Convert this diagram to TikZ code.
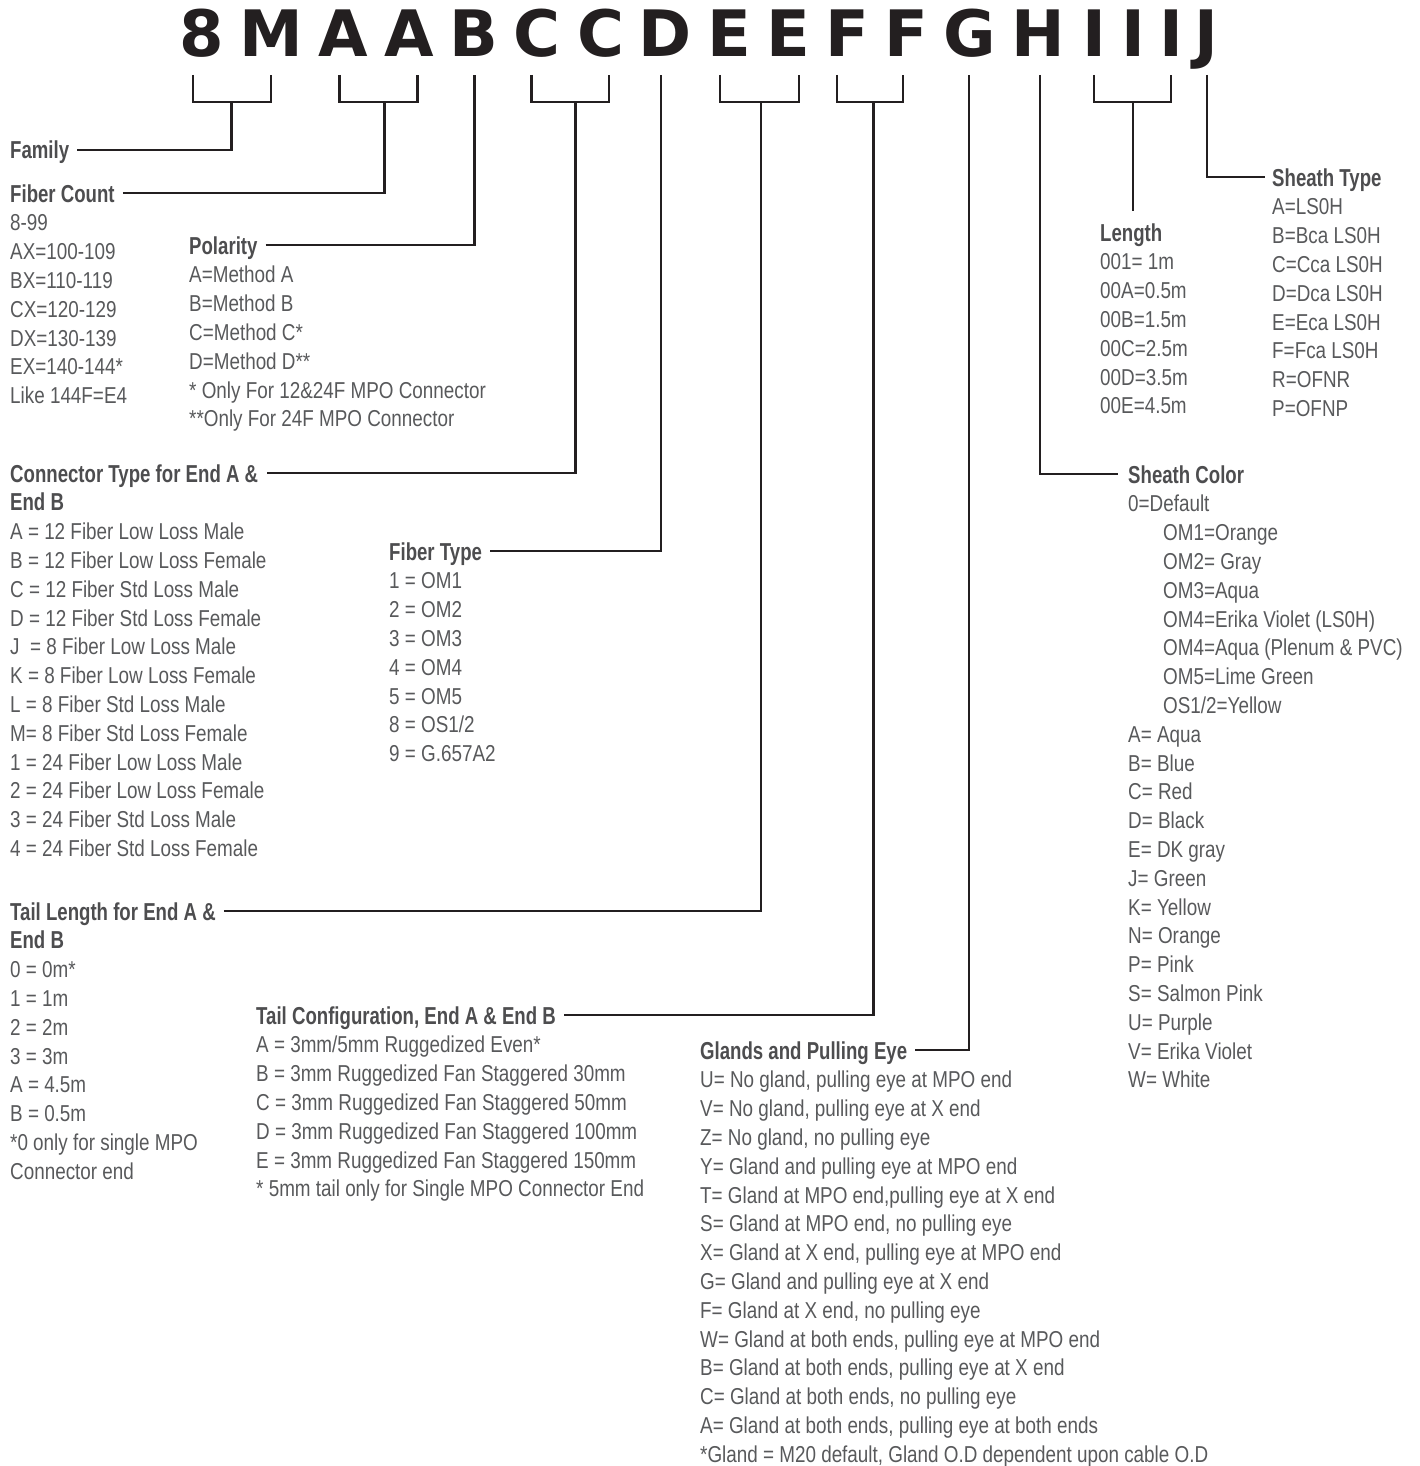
\documentclass[tikz,border=0pt]{standalone}
\usepackage{fontspec}
\setmainfont{Liberation Sans}
\newfontfamily\bodyf[FakeStretch=0.82]{Liberation Sans}
\newfontfamily\headf[FakeStretch=0.76]{Liberation Sans}
\newfontfamily\codef{DejaVu Sans}
\definecolor{ink}{HTML}{231F20}
\definecolor{hdc}{HTML}{4D4D4F}
\definecolor{txt}{HTML}{58595B}

\begin{document}
\begin{tikzpicture}[x=1pt,y=-1pt,
cd/.style={inner sep=0, anchor=base, font=\fontsize{64}{64}\selectfont\codef\bfseries, text=ink},
hd/.style={inner sep=0, anchor=base west, text height=18pt, text depth=0pt, font=\fontsize{24.5}{28.8}\selectfont\headf\bfseries, text=hdc},
it/.style={inner sep=0, anchor=base west, font=\fontsize{23}{28.8}\selectfont\bodyf, text=txt},
ln/.style={draw=ink, line width=2.6pt}]
	\useasboundingbox (0,0) rectangle (1420,1466);

	% part number
	\foreach \x/\c [count=\i] in {201.5/8, 271/M, 343.5/A, 409/A, 473.5/B, 537/C, 600.5/C, 665/D, 729/E, 788/E, 847/F, 906/F, 970/G, 1038.5/H, 1094/I, 1133/I, 1171/I, 1206/J}
		\node[cd] (l\i) at (\x,57) {\c};

	% brackets and single ticks
	\foreach \a/\b/\s [count=\i] in {193/271/231.5, 339.5/417.5/384.5, 531.5/609/575.5, 720/799/761, 837/903/873.5, 1094/1171/1133} {
		\draw[ln] (\a,75) |- (\b,102) -- (\b,75);
		\coordinate (br\i) at (\s,102);
	}
	\coordinate (tB) at (474.5,75);
	\coordinate (tD) at (661,75);
	\coordinate (tG) at (969,75);
	\coordinate (tH) at (1040,75);
	\coordinate (tJ) at (1207,75);

	% left column
	\node[hd] (fam) at (10,159) {Family};
	\node[hd] (fcnt) at (10,202) {Fiber Count};
	\foreach \t [count=\i] in {8-99, AX=100-109, BX=110-119, CX=120-129, DX=130-139, EX=140-144*, Like 144F=E4}
		\node[it] (fcnt\i) at (10,{202+28.8*\i}) {\t};

	\node[hd] (pol) at (189,254) {Polarity};
	\foreach \t [count=\i] in {A=Method A, B=Method B, C=Method C*, D=Method D**, * Only For 12\&24F MPO Connector, **Only For 24F MPO Connector}
		\node[it] (pol\i) at (189,{254+28.8*\i}) {\t};

	\node[hd] (conn) at (10,482) {Connector Type for End A \&};
	\node[hd] (connb) at (10,510.8) {End B};
	\foreach \t [count=\i] in {A = 12 Fiber Low Loss Male, B = 12 Fiber Low Loss Female, C = 12 Fiber Std Loss Male, D = 12 Fiber Std Loss Female, J\ \ = 8 Fiber Low Loss Male, K = 8 Fiber Low Loss Female, L = 8 Fiber Std Loss Male, M= 8 Fiber Std Loss Female, 1 = 24 Fiber Low Loss Male, 2 = 24 Fiber Low Loss Female, 3 = 24 Fiber Std Loss Male, 4 = 24 Fiber Std Loss Female}
		\node[it] (conn\i) at (10,{510.8+28.8*\i}) {\t};

	\node[hd] (ftyp) at (389,560) {Fiber Type};
	\foreach \t [count=\i] in {1 = OM1, 2 = OM2, 3 = OM3, 4 = OM4, 5 = OM5, 8 = OS1/2, 9 = G.657A2}
		\node[it] (ftyp\i) at (389,{560+28.8*\i}) {\t};

	\node[hd] (tlen) at (10,920) {Tail Length for End A \&};
	\node[hd] (tlenb) at (10,948.8) {End B};
	\foreach \t [count=\i] in {0 = 0m*, 1 = 1m, 2 = 2m, 3 = 3m, A = 4.5m, B = 0.5m, *0 only for single MPO, Connector end}
		\node[it] (tlen\i) at (10,{948.8+28.8*\i}) {\t};

	\node[hd] (tcfg) at (256,1024) {Tail Configuration, End A \& End B};
	\foreach \t [count=\i] in {A = 3mm/5mm Ruggedized Even*, B = 3mm Ruggedized Fan Staggered 30mm, C = 3mm Ruggedized Fan Staggered 50mm, D = 3mm Ruggedized Fan Staggered 100mm, E = 3mm Ruggedized Fan Staggered 150mm, * 5mm tail only for Single MPO Connector End}
		\node[it] (tcfg\i) at (256,{1024+28.8*\i}) {\t};

	\node[hd] (glnd) at (700,1059) {Glands and Pulling Eye};
	\foreach \t [count=\i] in {{U= No gland, pulling eye at MPO end}, {V= No gland, pulling eye at X end}, {Z= No gland, no pulling eye}, Y= Gland and pulling eye at MPO end, {T= Gland at MPO end,pulling eye at X end}, {S= Gland at MPO end, no pulling eye}, {X= Gland at X end, pulling eye at MPO end}, G= Gland and pulling eye at X end, {F= Gland at X end, no pulling eye}, {W= Gland at both ends, pulling eye at MPO end}, {B= Gland at both ends, pulling eye at X end}, {C= Gland at both ends, no pulling eye}, {A= Gland at both ends, pulling eye at both ends}, {*Gland = M20 default, Gland O.D dependent upon cable O.D}}
		\node[it] (glnd\i) at (700,{1059+28.8*\i}) {\t};

	% right column
	\node[hd] (styp) at (1272,186) {Sheath Type};
	\foreach \t [count=\i] in {A=LS0H, B=Bca LS0H, C=Cca LS0H, D=Dca LS0H, E=Eca LS0H, F=Fca LS0H, R=OFNR, P=OFNP}
		\node[it] (styp\i) at (1272,{186+28.8*\i}) {\t};

	\node[hd] (len) at (1100,241) {Length};
	\foreach \t [count=\i] in {001= 1m, 00A=0.5m, 00B=1.5m, 00C=2.5m, 00D=3.5m, 00E=4.5m}
		\node[it] (len\i) at (1100,{241+28.8*\i}) {\t};

	\node[hd] (scol) at (1128,483) {Sheath Color};
	\node[it] (scol1) at (1128,511.8) {0=Default};
	\foreach \t [count=\i from 2] in {OM1=Orange, OM2= Gray, OM3=Aqua, OM4=Erika Violet (LS0H), OM4=Aqua (Plenum \& PVC), OM5=Lime Green, OS1/2=Yellow}
		\node[it] (scol\i) at (1163,{483+28.8*\i}) {\t};
	\foreach \t [count=\i from 9] in {A= Aqua, B= Blue, C= Red, D= Black, E= DK gray, J= Green, K= Yellow, N= Orange, P= Pink, S= Salmon Pink, U= Purple, V= Erika Violet, W= White}
		\node[it] (scol\i) at (1128,{483+28.8*\i}) {\t};

	% connectors
	\draw[ln] ([xshift=8]fam.east) -| (br1);
	\draw[ln] ([xshift=8]fcnt.east) -| (br2);
	\draw[ln] ([xshift=8]pol.east) -| (tB);
	\draw[ln] ([xshift=9]conn.east) -| (br3);
	\draw[ln] ([xshift=8]ftyp.east) -| (tD);
	\draw[ln] ([xshift=8]tlen.east) -| (br4);
	\draw[ln] ([xshift=8]tcfg.east) -| (br5);
	\draw[ln] ([xshift=8]glnd.east) -| (tG);
	\draw[ln] (tH) |- ([xshift=-10]scol.west);
	\draw[ln] (br6) -- ([yshift=12]len.north -| br6);
	\draw[ln] (tJ) |- ([xshift=-7]styp.west);
\end{tikzpicture}
\end{document}
